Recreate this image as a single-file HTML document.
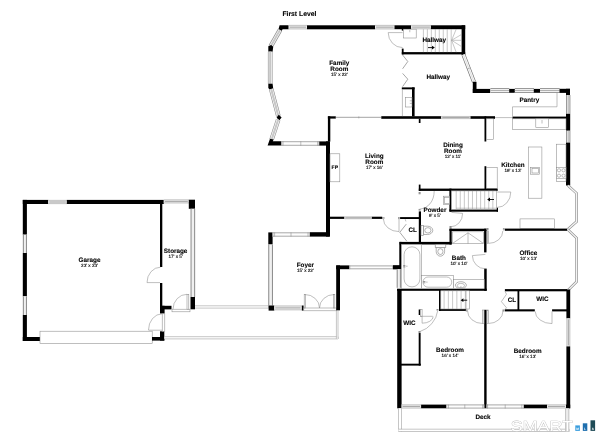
<!DOCTYPE html>
<html lang="en">
<head>
<meta charset="utf-8">
<title>First Level Floor Plan</title>
<style>
html,body{margin:0;padding:0;background:#fff;}
body{width:600px;height:436px;overflow:hidden;font-family:"Liberation Sans",sans-serif;}
svg{display:block;}
.w{fill:#000;}
.t{fill:none;stroke:#8a8a8a;stroke-width:0.55;}
.t2{fill:none;stroke:#9a9a9a;stroke-width:0.9;}
.t4{fill:none;stroke:#999;stroke-width:0.85;}
.t5{fill:none;stroke:#8c8c8c;stroke-width:0.5;}
.t6{fill:none;stroke:#555;stroke-width:0.6;}
.t7{fill:none;stroke:#808080;stroke-width:0.6;}
.t3{fill:none;stroke:#9a9a9a;stroke-width:0.55;}
.f{fill:#fff;}
text{font-family:"Liberation Sans",sans-serif;text-rendering:geometricPrecision;}
.lb{font-size:6.35px;font-weight:bold;fill:#000;stroke:#000;stroke-width:0.1px;text-anchor:middle;}
.s{font-size:5px;}
.ti{font-size:6.8px;}
.dm{font-size:4.6px;font-weight:normal;fill:#000;stroke:#000;stroke-width:0.12px;text-anchor:middle;}
.ml{font-size:3.2px;font-weight:bold;fill:#fff;text-anchor:middle;}
</style>
</head>
<body>
<svg width="600" height="436" viewBox="0 0 600 436">
<defs><filter id="gs" x="0" y="0" width="600" height="436" filterUnits="userSpaceOnUse" color-interpolation-filters="sRGB"><feColorMatrix type="saturate" values="0"/></filter></defs>
<rect x="0" y="0" width="600" height="436" fill="#ffffff"/>
<rect class="w" x="22.80" y="199.90" width="25.50" height="4.10"/>
<rect x="48.30" y="200.05" width="18.50" height="3.90" fill="#ececec"/>
<line x1="49.30" y1="202.00" x2="65.80" y2="202.00" stroke="#a6a6a6" stroke-width="1.0"/>
<line x1="48.30" y1="200.35" x2="66.80" y2="200.35" stroke="#a4a4a4" stroke-width="0.6"/>
<line x1="48.30" y1="203.65" x2="66.80" y2="203.65" stroke="#a4a4a4" stroke-width="0.6"/>
<rect class="w" x="66.80" y="199.90" width="97.00" height="4.10"/>
<rect x="163.80" y="199.55" width="25.00" height="3.70" fill="#ececec"/>
<line x1="164.80" y1="201.40" x2="187.80" y2="201.40" stroke="#a6a6a6" stroke-width="1.0"/>
<line x1="163.80" y1="199.85" x2="188.80" y2="199.85" stroke="#a4a4a4" stroke-width="0.6"/>
<line x1="163.80" y1="202.95" x2="188.80" y2="202.95" stroke="#a4a4a4" stroke-width="0.6"/>
<rect class="w" x="188.80" y="199.70" width="6.20" height="9.10"/>
<rect class="w" x="22.80" y="199.90" width="4.10" height="34.80"/>
<rect x="22.95" y="234.70" width="3.90" height="18.30" fill="#f0f0f0"/>
<line x1="23.35" y1="234.70" x2="23.35" y2="253.00" stroke="#707070" stroke-width="0.8"/>
<line x1="26.45" y1="234.70" x2="26.45" y2="253.00" stroke="#707070" stroke-width="0.8"/>
<rect class="w" x="22.80" y="253.00" width="4.10" height="43.30"/>
<rect x="22.95" y="296.30" width="3.90" height="18.70" fill="#f0f0f0"/>
<line x1="23.35" y1="296.30" x2="23.35" y2="315.00" stroke="#707070" stroke-width="0.8"/>
<line x1="26.45" y1="296.30" x2="26.45" y2="315.00" stroke="#707070" stroke-width="0.8"/>
<rect class="w" x="22.80" y="315.00" width="4.10" height="26.00"/>
<rect class="w" x="22.80" y="337.00" width="17.20" height="4.00"/>
<rect class="t f" x="40.00" y="331.20" width="112.20" height="12.30"/>
<rect class="w" x="152.00" y="337.00" width="12.30" height="3.60"/>
<rect class="w" x="160.00" y="331.30" width="4.30" height="9.30"/>
<rect class="w" x="160.00" y="203.00" width="2.30" height="64.00"/>
<rect class="w" x="160.00" y="283.00" width="2.30" height="23.00"/>
<rect class="w" x="160.00" y="305.80" width="11.50" height="3.60"/>
<rect class="w" x="160.00" y="305.80" width="4.60" height="7.70"/>
<line class="t" x1="147.00" y1="282.60" x2="160.00" y2="282.60"/>
<path class="t" d="M147.00 282.60 A13.50 15.40 0 0 1 160.50 267.20"/>
<rect class="t f" x="172.00" y="309.20" width="18.00" height="2.60"/>
<rect class="t f" x="187.00" y="294.30" width="1.80" height="14.90"/>
<path class="t" d="M187.00 294.30 A14.00 15.00 0 0 0 173.00 309.20"/>
<rect class="t f" x="162.20" y="313.80" width="2.60" height="17.50"/>
<path class="t" d="M162.20 313.80 A13.70 16.20 0 0 0 148.50 330.00"/>
<line class="t" x1="148.50" y1="330.20" x2="162.20" y2="330.20"/>
<rect x="190.65" y="208.80" width="4.40" height="88.20" fill="#f0f0f0"/>
<line x1="191.05" y1="208.80" x2="191.05" y2="297.00" stroke="#707070" stroke-width="0.8"/>
<line x1="194.65" y1="208.80" x2="194.65" y2="297.00" stroke="#707070" stroke-width="0.8"/>
<rect class="w" x="190.50" y="297.00" width="4.50" height="12.30"/>
<rect x="195.00" y="305.80" width="73.80" height="2.30" fill="#fff"/>
<line class="t5" x1="195.00" y1="305.80" x2="268.80" y2="305.80"/>
<line class="t5" x1="195.00" y1="308.10" x2="268.80" y2="308.10"/>
<line class="t5" x1="268.80" y1="305.80" x2="268.80" y2="308.10"/>
<rect x="164.30" y="336.70" width="173.70" height="2.20" fill="#fff"/>
<line class="t5" x1="164.30" y1="336.70" x2="338.00" y2="336.70"/>
<line class="t5" x1="164.30" y1="338.90" x2="338.00" y2="338.90"/>
<line class="t5" x1="338.00" y1="336.70" x2="338.00" y2="338.90"/>
<rect x="336.40" y="310.30" width="1.60" height="28.60" fill="#fff"/>
<line class="t5" x1="336.40" y1="310.30" x2="336.40" y2="338.90"/>
<line class="t5" x1="338.00" y1="310.30" x2="338.00" y2="338.90"/>
<rect class="w" x="268.30" y="232.40" width="4.30" height="12.10"/>
<rect x="272.60" y="232.45" width="37.40" height="4.10" fill="#fdfdfd"/>
<line x1="272.60" y1="232.80" x2="310.00" y2="232.80" stroke="#858585" stroke-width="0.7"/>
<line x1="272.60" y1="236.20" x2="310.00" y2="236.20" stroke="#858585" stroke-width="0.7"/>
<line x1="272.90" y1="232.45" x2="272.90" y2="236.55" stroke="#858585" stroke-width="0.6"/>
<line x1="309.70" y1="232.45" x2="309.70" y2="236.55" stroke="#858585" stroke-width="0.6"/>
<line class="t" x1="274.6" y1="232.45" x2="274.6" y2="236.55"/>
<line class="t" x1="291" y1="232.45" x2="291" y2="236.55"/>
<line class="t" x1="308" y1="232.45" x2="308" y2="236.55"/>
<rect class="w" x="310.00" y="232.20" width="19.50" height="4.40"/>
<rect x="268.35" y="244.50" width="4.50" height="61.00" fill="#f0f0f0"/>
<line x1="268.75" y1="244.50" x2="268.75" y2="305.50" stroke="#707070" stroke-width="0.8"/>
<line x1="272.45" y1="244.50" x2="272.45" y2="305.50" stroke="#707070" stroke-width="0.8"/>
<rect class="w" x="268.60" y="305.50" width="5.70" height="5.10"/>
<rect x="274.30" y="305.65" width="27.30" height="4.50" fill="#ececec"/>
<line x1="275.30" y1="307.90" x2="300.60" y2="307.90" stroke="#a6a6a6" stroke-width="1.0"/>
<line x1="274.30" y1="305.95" x2="301.60" y2="305.95" stroke="#a4a4a4" stroke-width="0.6"/>
<line x1="274.30" y1="309.85" x2="301.60" y2="309.85" stroke="#a4a4a4" stroke-width="0.6"/>
<rect class="w" x="301.80" y="305.50" width="1.80" height="5.10"/>
<rect class="t f" x="303.80" y="308.00" width="32.50" height="2.80"/>
<rect class="t f" x="304.20" y="294.50" width="1.20" height="13.50"/>
<rect class="t f" x="333.60" y="294.50" width="1.20" height="13.50"/>
<path class="t" d="M304.80 294.50 A14.70 13.50 0 0 1 319.50 308.00"/>
<path class="t" d="M334.20 294.50 A14.70 13.50 0 0 0 319.50 308.00"/>
<rect class="w" x="336.20" y="265.40" width="3.80" height="44.90"/>
<rect class="w" x="336.20" y="265.40" width="13.30" height="3.80"/>
<rect x="349.50" y="265.55" width="43.50" height="3.60" fill="#fdfdfd"/>
<line x1="349.50" y1="265.90" x2="393.00" y2="265.90" stroke="#858585" stroke-width="0.7"/>
<line x1="349.50" y1="268.80" x2="393.00" y2="268.80" stroke="#858585" stroke-width="0.7"/>
<line x1="349.80" y1="265.55" x2="349.80" y2="269.15" stroke="#858585" stroke-width="0.6"/>
<line x1="392.70" y1="265.55" x2="392.70" y2="269.15" stroke="#858585" stroke-width="0.6"/>
<rect class="w" x="393.00" y="265.40" width="7.00" height="3.80"/>
<rect class="w" x="327.90" y="116.30" width="2.40" height="25.30"/>
<rect class="w" x="326.00" y="141.40" width="4.00" height="95.20"/>
<rect class="w" x="327.90" y="116.30" width="7.90" height="2.30"/>
<line class="t2" x1="335.80" y1="117.30" x2="381.30" y2="117.30"/>
<line class="t" x1="358.80" y1="116.40" x2="358.80" y2="118.40"/>
<rect class="w" x="381.30" y="116.20" width="60.00" height="2.60"/>
<rect x="441.30" y="116.15" width="29.20" height="2.80" fill="#ececec"/>
<line x1="442.30" y1="117.55" x2="469.50" y2="117.55" stroke="#a6a6a6" stroke-width="1.0"/>
<line x1="441.30" y1="116.45" x2="470.50" y2="116.45" stroke="#a4a4a4" stroke-width="0.6"/>
<line x1="441.30" y1="118.65" x2="470.50" y2="118.65" stroke="#a4a4a4" stroke-width="0.6"/>
<rect class="w" x="470.50" y="116.20" width="24.50" height="2.60"/>
<line class="t" x1="495.00" y1="117.60" x2="512.50" y2="117.60"/>
<rect class="w" x="512.50" y="116.60" width="53.50" height="2.20"/>
<rect class="w" x="329.50" y="216.70" width="15.00" height="2.20"/>
<rect x="344.50" y="216.55" width="27.30" height="2.50" fill="#ececec"/>
<line x1="345.50" y1="217.80" x2="370.80" y2="217.80" stroke="#a6a6a6" stroke-width="1.0"/>
<line x1="344.50" y1="216.85" x2="371.80" y2="216.85" stroke="#a4a4a4" stroke-width="0.6"/>
<line x1="344.50" y1="218.75" x2="371.80" y2="218.75" stroke="#a4a4a4" stroke-width="0.6"/>
<rect class="w" x="371.80" y="216.70" width="10.40" height="2.20"/>
<rect class="t f" x="382.70" y="217.40" width="1.40" height="1.40"/>
<rect class="t f" x="398.70" y="217.40" width="1.40" height="1.40"/>
<line class="t" x1="399.00" y1="218.80" x2="399.00" y2="231.60"/>
<path class="t" d="M383.40 219.00 A15.60 12.60 0 0 0 399.00 231.60"/>
<rect class="t f" x="330.00" y="153.80" width="9.80" height="28.00"/>
<rect class="w" x="418.80" y="118.80" width="1.70" height="4.20"/>
<rect class="w" x="418.80" y="184.60" width="1.70" height="6.40"/>
<polygon class="w" points="279.60,25.30 288.70,25.30 288.70,29.30 282.60,29.30 281.60,31.00 278.40,29.40"/>
<rect x="288.70" y="25.05" width="18.30" height="4.20" fill="#ececec"/>
<line x1="289.70" y1="27.15" x2="306.00" y2="27.15" stroke="#a6a6a6" stroke-width="1.0"/>
<line x1="288.70" y1="25.35" x2="307.00" y2="25.35" stroke="#a4a4a4" stroke-width="0.6"/>
<line x1="288.70" y1="28.95" x2="307.00" y2="28.95" stroke="#a4a4a4" stroke-width="0.6"/>
<rect class="w" x="307.00" y="25.30" width="68.00" height="4.00"/>
<rect x="375.00" y="25.05" width="19.50" height="4.20" fill="#ececec"/>
<line x1="376.00" y1="27.15" x2="393.50" y2="27.15" stroke="#a6a6a6" stroke-width="1.0"/>
<line x1="375.00" y1="25.35" x2="394.50" y2="25.35" stroke="#a4a4a4" stroke-width="0.6"/>
<line x1="375.00" y1="28.95" x2="394.50" y2="28.95" stroke="#a4a4a4" stroke-width="0.6"/>
<rect class="w" x="394.50" y="25.30" width="16.70" height="3.90"/>
<rect x="411.20" y="25.05" width="19.70" height="4.10" fill="#ececec"/>
<line x1="412.20" y1="27.10" x2="429.90" y2="27.10" stroke="#a6a6a6" stroke-width="1.0"/>
<line x1="411.20" y1="25.35" x2="430.90" y2="25.35" stroke="#a4a4a4" stroke-width="0.6"/>
<line x1="411.20" y1="28.85" x2="430.90" y2="28.85" stroke="#a4a4a4" stroke-width="0.6"/>
<rect class="w" x="430.90" y="25.30" width="34.30" height="3.90"/>
<line x1="280.00" y1="30.00" x2="270.60" y2="46.50" stroke="#8a8a8a" stroke-width="4.6"/>
<line x1="280.00" y1="30.00" x2="270.60" y2="46.50" stroke="#ededed" stroke-width="3.50"/>
<line x1="280.00" y1="30.00" x2="270.60" y2="46.50" stroke="#acacac" stroke-width="1.4"/>
<line x1="280.00" y1="30.00" x2="270.60" y2="46.50" stroke="#e4e4e4" stroke-width="0.6"/>
<polygon class="w" points="268.30,46.20 271.20,45.00 273.20,46.80 272.60,51.70 268.30,51.70"/>
<line x1="270.20" y1="51.70" x2="270.20" y2="83.80" stroke="#8a8a8a" stroke-width="4.6"/>
<line x1="270.20" y1="51.70" x2="270.20" y2="83.80" stroke="#ededed" stroke-width="3.50"/>
<line x1="270.20" y1="51.70" x2="270.20" y2="83.80" stroke="#acacac" stroke-width="1.4"/>
<line x1="270.20" y1="51.70" x2="270.20" y2="83.80" stroke="#e4e4e4" stroke-width="0.6"/>
<polygon class="w" points="268.30,83.80 272.60,83.80 273.20,88.80 269.60,89.60 268.30,88.00"/>
<line x1="271.20" y1="89.00" x2="278.40" y2="116.20" stroke="#8a8a8a" stroke-width="4.6"/>
<line x1="271.20" y1="89.00" x2="278.40" y2="116.20" stroke="#ededed" stroke-width="3.50"/>
<line x1="271.20" y1="89.00" x2="278.40" y2="116.20" stroke="#acacac" stroke-width="1.4"/>
<line x1="271.20" y1="89.00" x2="278.40" y2="116.20" stroke="#e4e4e4" stroke-width="0.6"/>
<polygon class="w" points="278.80,114.80 281.60,117.60 279.20,120.60 276.60,117.40"/>
<line x1="278.20" y1="119.60" x2="271.60" y2="139.60" stroke="#8a8a8a" stroke-width="4.6"/>
<line x1="278.20" y1="119.60" x2="271.60" y2="139.60" stroke="#ededed" stroke-width="3.50"/>
<line x1="278.20" y1="119.60" x2="271.60" y2="139.60" stroke="#acacac" stroke-width="1.4"/>
<line x1="278.20" y1="119.60" x2="271.60" y2="139.60" stroke="#e4e4e4" stroke-width="0.6"/>
<polygon class="w" points="270.00,138.80 273.60,139.60 272.80,141.20 281.30,141.20 281.30,145.50 267.60,145.50"/>
<rect x="281.30" y="141.35" width="38.00" height="4.30" fill="#fdfdfd"/>
<line x1="281.30" y1="141.70" x2="319.30" y2="141.70" stroke="#858585" stroke-width="0.7"/>
<line x1="281.30" y1="145.30" x2="319.30" y2="145.30" stroke="#858585" stroke-width="0.7"/>
<line x1="281.60" y1="141.35" x2="281.60" y2="145.65" stroke="#858585" stroke-width="0.6"/>
<line x1="319.00" y1="141.35" x2="319.00" y2="145.65" stroke="#858585" stroke-width="0.6"/>
<line class="t" x1="283" y1="141.35" x2="283" y2="145.65"/>
<line class="t" x1="300.8" y1="141.35" x2="300.8" y2="145.65"/>
<line class="t" x1="317.6" y1="141.35" x2="317.6" y2="145.65"/>
<rect class="w" x="319.30" y="141.40" width="10.20" height="4.20"/>
<rect class="w" x="461.60" y="25.30" width="3.60" height="29.70"/>
<rect class="w" x="401.80" y="52.10" width="63.40" height="2.30"/>
<rect class="w" x="401.80" y="48.60" width="1.80" height="5.80"/>
<rect class="w" x="401.80" y="29.00" width="1.50" height="1.60"/>
<line class="t" x1="388.20" y1="32.60" x2="402.60" y2="32.60"/>
<path class="t" d="M388.20 32.60 A14.40 15.00 0 0 0 402.60 47.60"/>
<rect class="t f" x="403.60" y="29.20" width="12.60" height="8.80"/>
<line class="t" x1="409.80" y1="30.00" x2="409.80" y2="32.20"/>
<line class="t3" x1="423.40" y1="29.20" x2="423.40" y2="52.20"/>
<line class="t3" x1="427.37" y1="29.20" x2="427.37" y2="52.20"/>
<line class="t3" x1="431.34" y1="29.20" x2="431.34" y2="52.20"/>
<line class="t3" x1="435.31" y1="29.20" x2="435.31" y2="52.20"/>
<line class="t3" x1="439.28" y1="29.20" x2="439.28" y2="52.20"/>
<line class="t3" x1="443.25" y1="29.20" x2="443.25" y2="52.20"/>
<line class="t3" x1="447.22" y1="29.20" x2="447.22" y2="52.20"/>
<line class="t3" x1="451.19" y1="29.20" x2="451.19" y2="52.20"/>
<line class="t3" x1="451.60" y1="40.30" x2="456.20" y2="29.20"/>
<line class="t3" x1="451.60" y1="40.30" x2="461.60" y2="34.40"/>
<line class="t3" x1="451.60" y1="40.30" x2="461.60" y2="40.30"/>
<line class="t3" x1="451.60" y1="40.30" x2="461.60" y2="46.60"/>
<line class="t3" x1="451.60" y1="40.30" x2="456.20" y2="52.20"/>
<path d="M428 47.6 H433.3" stroke="#000" stroke-width="0.9" fill="none"/>
<polygon points="434.8,47.6 432.0,45.7 432.0,49.5" fill="#000"/>
<polyline class="t4" points="402.60,55.00 407.80,61.50 402.60,68.80"/>
<polyline class="t4" points="402.60,73.40 407.80,79.20 402.60,86.60"/>
<rect class="w" x="401.80" y="87.40" width="12.80" height="1.90"/>
<rect class="w" x="412.00" y="87.40" width="2.60" height="29.00"/>
<line class="t" x1="402.40" y1="89.30" x2="402.40" y2="116.20"/>
<rect class="t f" x="405.70" y="97.30" width="6.30" height="9.70"/>
<line class="t" x1="409.80" y1="100.80" x2="412.00" y2="100.80"/>
<line class="t" x1="409.80" y1="103.40" x2="412.00" y2="103.40"/>
<line x1="463.40" y1="54.60" x2="474.00" y2="82.00" stroke="#707070" stroke-width="4.0"/>
<line x1="463.40" y1="54.60" x2="474.00" y2="82.00" stroke="#fafafa" stroke-width="2.70"/>
<line x1="463.40" y1="54.60" x2="474.00" y2="82.00" stroke="#c4c4c4" stroke-width="0.5"/>
<line class="t" x1="467.30" y1="69.00" x2="470.30" y2="67.80"/>
<rect class="w" x="472.80" y="81.80" width="3.70" height="11.20"/>
<rect class="w" x="472.80" y="88.90" width="17.60" height="4.10"/>
<rect x="490.40" y="88.00" width="18.90" height="5.00" fill="#f1f1f1"/>
<line x1="490.40" y1="88.50" x2="509.30" y2="88.50" stroke="#9a9a9a" stroke-width="1"/>
<line x1="490.40" y1="90.50" x2="509.30" y2="90.50" stroke="#b2b2b2" stroke-width="1"/>
<line x1="490.40" y1="92.50" x2="509.30" y2="92.50" stroke="#9a9a9a" stroke-width="1"/>
<rect class="w" x="509.20" y="88.90" width="5.90" height="3.90"/>
<rect x="514.80" y="88.00" width="19.20" height="5.00" fill="#f1f1f1"/>
<line x1="514.80" y1="88.50" x2="534.00" y2="88.50" stroke="#9a9a9a" stroke-width="1"/>
<line x1="514.80" y1="90.50" x2="534.00" y2="90.50" stroke="#b2b2b2" stroke-width="1"/>
<line x1="514.80" y1="92.50" x2="534.00" y2="92.50" stroke="#9a9a9a" stroke-width="1"/>
<rect class="w" x="533.80" y="88.90" width="6.40" height="3.90"/>
<rect x="540.00" y="88.00" width="19.60" height="5.00" fill="#f1f1f1"/>
<line x1="540.00" y1="88.50" x2="559.60" y2="88.50" stroke="#9a9a9a" stroke-width="1"/>
<line x1="540.00" y1="90.50" x2="559.60" y2="90.50" stroke="#b2b2b2" stroke-width="1"/>
<line x1="540.00" y1="92.50" x2="559.60" y2="92.50" stroke="#9a9a9a" stroke-width="1"/>
<rect class="w" x="559.50" y="88.80" width="10.50" height="4.10"/>
<rect class="w" x="566.00" y="88.80" width="4.00" height="6.20"/>
<rect x="566.00" y="95.00" width="4.40" height="18.80" fill="#f1f1f1"/>
<line x1="566.50" y1="95.00" x2="566.50" y2="113.80" stroke="#9a9a9a" stroke-width="1"/>
<line x1="568.20" y1="95.00" x2="568.20" y2="113.80" stroke="#b2b2b2" stroke-width="1"/>
<line x1="569.90" y1="95.00" x2="569.90" y2="113.80" stroke="#9a9a9a" stroke-width="1"/>
<rect class="w" x="566.00" y="113.80" width="4.20" height="17.00"/>
<rect x="566.00" y="130.80" width="4.40" height="11.80" fill="#f1f1f1"/>
<line x1="566.50" y1="130.80" x2="566.50" y2="142.60" stroke="#9a9a9a" stroke-width="1"/>
<line x1="568.20" y1="130.80" x2="568.20" y2="142.60" stroke="#b2b2b2" stroke-width="1"/>
<line x1="569.90" y1="130.80" x2="569.90" y2="142.60" stroke="#9a9a9a" stroke-width="1"/>
<rect class="w" x="566.00" y="142.60" width="4.20" height="42.90"/>
<polyline class="t" points="557.00,92.80 557.00,106.80 512.50,106.80 512.50,116.60"/>
<rect class="t f" x="512.50" y="118.80" width="53.50" height="10.50"/>
<rect class="t f" x="535.80" y="118.80" width="12.60" height="8.70"/>
<line class="t" x1="542.00" y1="120.00" x2="542.00" y2="123.50"/>
<rect class="w" x="484.50" y="116.40" width="1.80" height="25.10"/>
<rect class="t f" x="486.30" y="118.80" width="7.10" height="20.80"/>
<rect class="w" x="484.50" y="166.20" width="1.80" height="23.80"/>
<rect class="t f" x="486.30" y="167.50" width="10.90" height="21.10"/>
<rect class="t f" x="528.40" y="147.00" width="13.50" height="51.20"/>
<rect class="t f" x="530.60" y="167.50" width="9.10" height="6.70"/>
<rect class="t f" x="532.00" y="168.40" width="6.40" height="4.60"/>
<rect class="t f" x="556.50" y="144.20" width="9.50" height="37.40"/>
<rect class="t f" x="556.50" y="167.50" width="9.50" height="10.90"/>
<circle class="t" cx="559" cy="170.3" r="1.6"/>
<circle class="t" cx="559" cy="175.7" r="1.6"/>
<circle class="t" cx="563.5" cy="170.3" r="1.6"/>
<circle class="t" cx="563.5" cy="175.7" r="1.6"/>
<rect class="t f" x="520.00" y="218.90" width="34.30" height="9.70"/>
<polyline points="568.00,185.50 576.60,193.40 576.60,221.60 567.60,229.40" fill="none" stroke="#8e8e8e" stroke-width="2.6" stroke-linejoin="miter"/>
<polyline points="568.00,185.50 576.60,193.40 576.60,221.60 567.60,229.40" fill="none" stroke="#f4f4f4" stroke-width="1.3" stroke-linejoin="miter"/>
<polyline points="567.60,229.40 576.60,238.00 576.60,281.80 568.00,290.20" fill="none" stroke="#8e8e8e" stroke-width="2.6" stroke-linejoin="miter"/>
<polyline points="567.60,229.40 576.60,238.00 576.60,281.80 568.00,290.20" fill="none" stroke="#f4f4f4" stroke-width="1.3" stroke-linejoin="miter"/>
<rect class="w" x="418.80" y="188.60" width="78.90" height="2.30"/>
<rect class="w" x="449.40" y="188.60" width="2.10" height="23.00"/>
<rect class="w" x="449.40" y="209.30" width="48.60" height="2.40"/>
<rect class="w" x="496.70" y="207.70" width="1.30" height="4.00"/>
<rect class="t f" x="451.50" y="190.90" width="44.90" height="18.60"/>
<line class="t3" x1="456.20" y1="190.90" x2="456.20" y2="209.50"/>
<line class="t3" x1="460.27" y1="190.90" x2="460.27" y2="209.50"/>
<line class="t3" x1="464.34" y1="190.90" x2="464.34" y2="209.50"/>
<line class="t3" x1="468.41" y1="190.90" x2="468.41" y2="209.50"/>
<line class="t3" x1="472.48" y1="190.90" x2="472.48" y2="209.50"/>
<line class="t3" x1="476.55" y1="190.90" x2="476.55" y2="209.50"/>
<line class="t3" x1="480.62" y1="190.90" x2="480.62" y2="209.50"/>
<line class="t3" x1="484.69" y1="190.90" x2="484.69" y2="209.50"/>
<line class="t3" x1="488.76" y1="190.90" x2="488.76" y2="209.50"/>
<line class="t3" x1="492.83" y1="190.90" x2="492.83" y2="209.50"/>
<line class="t3" x1="456.20" y1="208.20" x2="497.00" y2="208.20"/>
<path d="M494 199.5 H488.7" stroke="#000" stroke-width="0.9" fill="none"/>
<polygon points="487.2,199.5 490.0,197.6 490.0,201.4" fill="#000"/>
<line class="t" x1="497.20" y1="192.00" x2="510.80" y2="192.00"/>
<path class="t" d="M510.80 192.00 A13.60 15.40 0 0 1 497.20 207.40"/>
<rect class="t f" x="443.30" y="196.20" width="6.10" height="8.50"/>
<rect class="t f" x="444.60" y="197.60" width="4.80" height="5.80"/>
<path class="t" d="M434.20 191.00 A14.40 18.20 0 0 1 419.80 209.20"/>
<rect class="t f" x="418.90" y="192.60" width="1.40" height="1.40"/>
<rect class="t f" x="418.90" y="209.20" width="1.40" height="1.40"/>
<rect class="w" x="418.80" y="211.40" width="2.20" height="31.60"/>
<rect class="w" x="400.10" y="217.10" width="20.90" height="1.90"/>
<polyline class="t4" points="406.30,224.10 399.80,232.30 406.80,241.20"/>
<line class="t" x1="405.20" y1="219.20" x2="405.90" y2="221.40"/>
<path class="t" d="M462.60 213.40 A12.00 13.40 0 0 1 450.60 226.80"/>
<line class="t" x1="451.50" y1="212.40" x2="462.60" y2="213.40"/>
<rect class="t f" x="449.80" y="226.60" width="1.40" height="1.40"/>
<rect class="t7 f" x="421.00" y="225.30" width="2.60" height="10.10"/>
<path class="t7 f" d="M423.6 226.2 L427.6 226.2 A5.2 4.15 0 0 1 427.6 234.5 L423.6 234.5 Z"/>
<ellipse class="t7 f" cx="427.9" cy="230.35" rx="3.1" ry="2.7"/>
<rect class="w" x="399.60" y="241.90" width="52.00" height="2.60"/>
<rect class="w" x="449.50" y="228.70" width="2.20" height="15.80"/>
<rect class="w" x="449.50" y="228.70" width="37.00" height="2.30"/>
<rect class="w" x="484.10" y="228.70" width="2.40" height="23.70"/>
<rect class="w" x="484.20" y="268.60" width="2.50" height="22.20"/>
<rect class="w" x="399.30" y="241.90" width="2.20" height="27.30"/>
<rect class="w" x="393.00" y="265.40" width="7.00" height="3.80"/>
<rect x="396.80" y="269.20" width="4.00" height="18.60" fill="#f0f0f0"/>
<line x1="397.20" y1="269.20" x2="397.20" y2="287.80" stroke="#707070" stroke-width="0.8"/>
<line x1="400.40" y1="269.20" x2="400.40" y2="287.80" stroke="#707070" stroke-width="0.8"/>
<rect class="w" x="397.00" y="288.70" width="89.70" height="2.10"/>
<rect class="t f" x="452.60" y="231.80" width="30.80" height="11.90"/>
<polyline class="t" points="452.60,243.40 468.00,232.80 483.40,243.40"/>
<line class="t" x1="468.00" y1="232.80" x2="468.00" y2="243.70"/>
<rect class="t f" x="401.50" y="244.50" width="20.10" height="44.20"/>
<rect class="t f" x="404.10" y="246.80" width="15.80" height="40.10" rx="7.9"/>
<line class="t6" x1="403.20" y1="265.60" x2="405.40" y2="265.60"/>
<line class="t6" x1="403.20" y1="266.90" x2="405.40" y2="266.90"/>
<line class="t6" x1="406.40" y1="266.20" x2="407.40" y2="266.20"/>
<rect class="t f" x="421.60" y="275.60" width="32.00" height="13.10"/>
<rect class="t f" x="423.00" y="277.00" width="28.70" height="10.20" rx="5"/>
<line class="t6" x1="423.20" y1="281.50" x2="425.40" y2="281.50"/>
<line class="t6" x1="423.20" y1="282.80" x2="425.40" y2="282.80"/>
<line class="t6" x1="426.40" y1="282.10" x2="427.40" y2="282.10"/>
<rect class="t f" x="453.60" y="279.70" width="30.60" height="9.00"/>
<ellipse class="t7 f" cx="460.9" cy="285.2" rx="5.5" ry="3.5"/>
<ellipse class="t f" cx="460.9" cy="285.6" rx="3.6" ry="2.3"/>
<line class="t7" x1="460.90" y1="286.20" x2="460.90" y2="288.60"/>
<rect class="t7 f" x="435.20" y="244.50" width="10.60" height="3.10"/>
<path class="t7 f" d="M436.2 247.6 L436.2 251.6 A4.2 4.6 0 0 0 444.6 251.6 L444.6 247.6 Z"/>
<ellipse class="t7 f" cx="440.4" cy="251.6" rx="2.6" ry="2.9"/>
<line class="t" x1="472.40" y1="255.60" x2="485.40" y2="254.40"/>
<path class="t" d="M472.40 255.60 A13.00 13.20 0 0 0 485.40 268.80"/>
<path class="t" d="M502.80 231.00 A14.30 12.40 0 0 1 488.50 243.40"/>
<rect class="t f" x="487.30" y="231.00" width="1.30" height="12.40"/>
<rect class="t f" x="503.20" y="228.60" width="1.40" height="1.40"/>
<rect class="t f" x="486.80" y="228.60" width="1.40" height="1.40"/>
<rect class="w" x="504.90" y="228.60" width="62.10" height="2.20"/>
<rect class="w" x="504.90" y="289.10" width="62.10" height="2.20"/>
<rect class="w" x="439.00" y="290.00" width="1.80" height="20.90"/>
<rect class="w" x="439.00" y="309.00" width="27.10" height="1.90"/>
<rect class="t f" x="440.80" y="290.80" width="28.50" height="18.20"/>
<line class="t3" x1="444.10" y1="290.80" x2="444.10" y2="309.00"/>
<line class="t3" x1="448.35" y1="290.80" x2="448.35" y2="309.00"/>
<line class="t3" x1="452.60" y1="290.80" x2="452.60" y2="309.00"/>
<line class="t3" x1="456.85" y1="290.80" x2="456.85" y2="309.00"/>
<line class="t3" x1="461.10" y1="290.80" x2="461.10" y2="309.00"/>
<line class="t3" x1="465.35" y1="290.80" x2="465.35" y2="309.00"/>
<line class="t" x1="466.00" y1="290.80" x2="466.00" y2="309.00"/>
<path d="M467.2 300.2 H462.1" stroke="#000" stroke-width="0.9" fill="none"/>
<polygon points="460.6,300.2 463.40000000000003,298.3 463.40000000000003,302.09999999999997" fill="#000"/>
<rect class="w" x="397.20" y="290.00" width="4.40" height="118.30"/>
<rect class="w" x="484.20" y="309.80" width="2.40" height="98.50"/>
<rect class="w" x="566.40" y="289.50" width="3.80" height="28.90"/>
<rect x="566.55" y="318.40" width="3.60" height="28.00" fill="#ececec"/>
<line x1="568.35" y1="319.40" x2="568.35" y2="345.40" stroke="#a6a6a6" stroke-width="1.0"/>
<line x1="566.85" y1="318.40" x2="566.85" y2="346.40" stroke="#a4a4a4" stroke-width="0.6"/>
<line x1="569.85" y1="318.40" x2="569.85" y2="346.40" stroke="#a4a4a4" stroke-width="0.6"/>
<rect class="w" x="566.40" y="346.40" width="3.80" height="61.90"/>
<rect x="401.60" y="404.55" width="19.50" height="3.80" fill="#ececec"/>
<line x1="402.60" y1="406.45" x2="420.10" y2="406.45" stroke="#a6a6a6" stroke-width="1.0"/>
<line x1="401.60" y1="404.85" x2="421.10" y2="404.85" stroke="#a4a4a4" stroke-width="0.6"/>
<line x1="401.60" y1="408.05" x2="421.10" y2="408.05" stroke="#a4a4a4" stroke-width="0.6"/>
<rect class="w" x="421.10" y="404.60" width="25.20" height="3.70"/>
<rect x="446.30" y="404.55" width="37.90" height="3.90" fill="#fdfdfd"/>
<line x1="446.30" y1="404.90" x2="484.20" y2="404.90" stroke="#858585" stroke-width="0.7"/>
<line x1="446.30" y1="408.10" x2="484.20" y2="408.10" stroke="#858585" stroke-width="0.7"/>
<line x1="446.60" y1="404.55" x2="446.60" y2="408.45" stroke="#858585" stroke-width="0.6"/>
<line x1="483.90" y1="404.55" x2="483.90" y2="408.45" stroke="#858585" stroke-width="0.6"/>
<line class="t" x1="448.4" y1="404.55" x2="448.4" y2="408.45"/>
<line class="t" x1="464.8" y1="404.55" x2="464.8" y2="408.45"/>
<line class="t" x1="482.6" y1="404.55" x2="482.6" y2="408.45"/>
<rect x="486.60" y="404.55" width="37.40" height="3.90" fill="#fdfdfd"/>
<line x1="486.60" y1="404.90" x2="524.00" y2="404.90" stroke="#858585" stroke-width="0.7"/>
<line x1="486.60" y1="408.10" x2="524.00" y2="408.10" stroke="#858585" stroke-width="0.7"/>
<line x1="486.90" y1="404.55" x2="486.90" y2="408.45" stroke="#858585" stroke-width="0.6"/>
<line x1="523.70" y1="404.55" x2="523.70" y2="408.45" stroke="#858585" stroke-width="0.6"/>
<line class="t" x1="487.6" y1="404.55" x2="487.6" y2="408.45"/>
<line class="t" x1="505.2" y1="404.55" x2="505.2" y2="408.45"/>
<line class="t" x1="521.8" y1="404.55" x2="521.8" y2="408.45"/>
<rect class="w" x="524.00" y="404.60" width="23.00" height="3.70"/>
<rect x="547.00" y="404.55" width="19.00" height="3.80" fill="#ececec"/>
<line x1="548.00" y1="406.45" x2="565.00" y2="406.45" stroke="#a6a6a6" stroke-width="1.0"/>
<line x1="547.00" y1="404.85" x2="566.00" y2="404.85" stroke="#a4a4a4" stroke-width="0.6"/>
<line x1="547.00" y1="408.05" x2="566.00" y2="408.05" stroke="#a4a4a4" stroke-width="0.6"/>
<rect class="w" x="566.00" y="404.60" width="4.20" height="3.70"/>
<rect class="w" x="418.70" y="333.00" width="1.90" height="32.60"/>
<rect class="w" x="401.00" y="363.70" width="19.80" height="1.90"/>
<rect class="w" x="418.70" y="309.50" width="1.60" height="5.50"/>
<rect class="t f" x="420.30" y="309.50" width="1.80" height="6.80"/>
<line class="t" x1="420.30" y1="316.30" x2="432.80" y2="316.30"/>
<line class="t" x1="422.10" y1="316.30" x2="422.10" y2="323.20"/>
<path class="t" d="M422.10 323.20 A11.10 6.80 0 0 0 433.20 316.60"/>
<path class="t" d="M437.80 310.40 A26.00 26.00 0 0 1 419.80 331.60"/>
<rect class="t f" x="436.80" y="309.30" width="1.40" height="1.40"/>
<rect class="t f" x="418.80" y="331.40" width="1.40" height="1.40"/>
<rect class="t f" x="482.60" y="310.00" width="1.40" height="13.50"/>
<path class="t" d="M467.60 311.00 A15.00 12.50 0 0 0 482.60 323.50"/>
<rect class="t f" x="487.00" y="310.00" width="1.40" height="13.50"/>
<path class="t" d="M503.00 311.00 A14.60 12.50 0 0 1 488.40 323.50"/>
<rect class="t f" x="466.00" y="309.80" width="1.40" height="1.40"/>
<rect class="t f" x="502.80" y="309.80" width="1.40" height="1.40"/>
<rect class="w" x="517.50" y="291.00" width="1.80" height="19.40"/>
<rect class="w" x="504.90" y="309.30" width="29.90" height="2.10"/>
<rect class="w" x="552.10" y="309.30" width="14.90" height="2.10"/>
<polyline class="t" points="505.00,291.40 506.50,294.20 501.40,301.60 506.50,307.80 505.00,309.40"/>
<line class="t" x1="552.00" y1="311.40" x2="552.00" y2="323.60"/>
<path class="t" d="M535.20 311.40 A16.80 12.20 0 0 0 552.00 323.60"/>
<rect x="398.50" y="408.30" width="3.00" height="23.20" fill="#fff"/>
<line class="t5" x1="398.50" y1="408.30" x2="398.50" y2="431.50"/>
<line class="t5" x1="401.50" y1="408.30" x2="401.50" y2="431.50"/>
<rect x="398.50" y="429.20" width="170.70" height="2.30" fill="#fff"/>
<line class="t5" x1="398.50" y1="429.20" x2="569.20" y2="429.20"/>
<line class="t5" x1="398.50" y1="431.50" x2="569.20" y2="431.50"/>
<line class="t5" x1="569.20" y1="429.20" x2="569.20" y2="431.50"/>
<rect x="565.25" y="408.30" width="3.90" height="23.20" fill="#ececec"/>
<line x1="567.20" y1="409.30" x2="567.20" y2="430.50" stroke="#a6a6a6" stroke-width="0"/>
<line x1="565.55" y1="408.30" x2="565.55" y2="431.50" stroke="#a4a4a4" stroke-width="0.6"/>
<line x1="568.85" y1="408.30" x2="568.85" y2="431.50" stroke="#a4a4a4" stroke-width="0.6"/>
<rect x="575.3" y="425.4" width="4.6" height="5.5" fill="#3b9ede"/>
<rect x="582.8" y="423.3" width="4.5" height="7.6" fill="#1f6fae"/>
<rect x="590.5" y="420.3" width="4.6" height="10.6" fill="#1e4b57"/>
<g filter="url(#gs)">
<text class="lb" x="89.50" y="262.20">Garage</text>
<text class="dm" x="89.50" y="267.30">23' x 23'</text>
<text class="lb" x="175.60" y="253.20">Storage</text>
<text class="dm" x="175.60" y="258.30">17' x 5'</text>
<text class="lb" x="305.30" y="266.70">Foyer</text>
<text class="dm" x="305.30" y="271.80">15' x 22'</text>
<text class="lb s" x="334.80" y="169.40">FP</text>
<text class="lb" x="374.30" y="157.70">Living</text>
<text class="lb" x="374.30" y="163.70">Room</text>
<text class="dm" x="374.30" y="168.80">17' x 16'</text>
<text class="lb" x="453.00" y="146.50">Dining</text>
<text class="lb" x="453.00" y="152.50">Room</text>
<text class="dm" x="453.00" y="157.60">12' x 11'</text>
<text class="lb" x="339.30" y="64.50">Family</text>
<text class="lb" x="339.30" y="70.50">Room</text>
<text class="dm" x="339.30" y="75.60">15' x 22'</text>
<text class="lb ti" x="299.40" y="16.20">First Level</text>
<text class="lb" x="434.30" y="42.20">Hallway</text>
<text class="lb" x="438.30" y="79.20">Hallway</text>
<text class="lb" x="529.30" y="101.80">Pantry</text>
<text class="lb" x="512.90" y="167.10">Kitchen</text>
<text class="dm" x="512.90" y="172.20">19' x 13'</text>
<text class="lb" x="434.90" y="211.80">Powder</text>
<text class="dm" x="434.90" y="216.90">9' x 5'</text>
<text class="lb" x="412.70" y="231.60">CL</text>
<text class="lb" x="458.90" y="260.10">Bath</text>
<text class="dm" x="458.90" y="265.20">10' x 10'</text>
<text class="lb" x="528.40" y="254.90">Office</text>
<text class="dm" x="528.40" y="260.00">10' x 13'</text>
<text class="lb" x="409.40" y="324.80">WIC</text>
<text class="lb" x="512.00" y="301.50">CL</text>
<text class="lb" x="542.50" y="300.80">WIC</text>
<text class="lb" x="450.00" y="351.50">Bedroom</text>
<text class="dm" x="450.00" y="356.60">16' x 14'</text>
<text class="lb" x="527.70" y="353.20">Bedroom</text>
<text class="dm" x="527.70" y="358.30">16' x 13'</text>
<text class="lb" x="483.00" y="419.10">Deck</text>
<text x="541.8" y="430.6" text-anchor="middle" font-family="'Liberation Sans',sans-serif" font-size="14.4" textLength="62" lengthAdjust="spacingAndGlyphs" fill="#ffffff" stroke="#b9b9b9" stroke-width="0.7" paint-order="stroke">SMART</text>
<text x="577.6" y="430.3" class="ml">M</text>
<text x="585.05" y="430.3" class="ml">L</text>
<text x="592.8" y="430.3" class="ml">S</text>
</g>
</svg>
</body>
</html>
